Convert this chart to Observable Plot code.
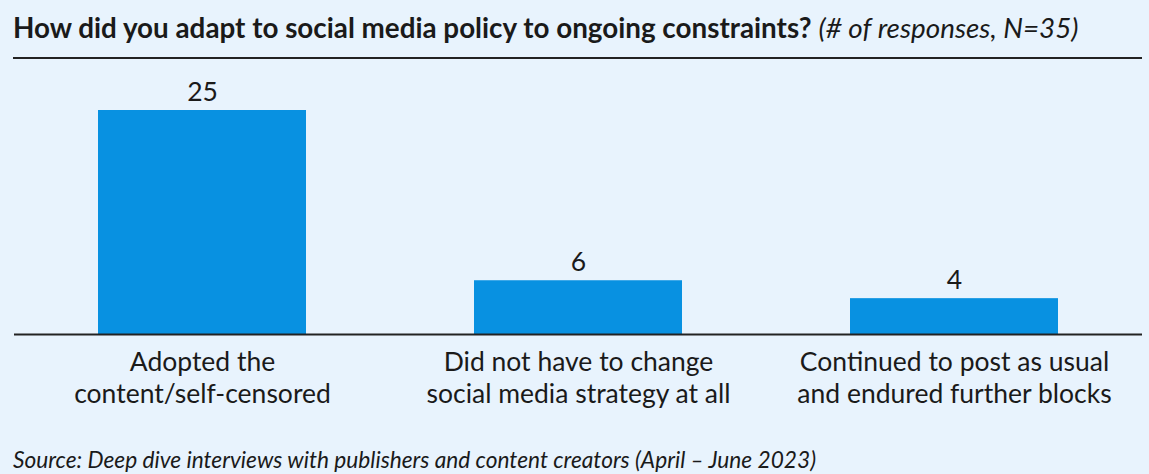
<!DOCTYPE html>
<html>
<head>
<meta charset="utf-8">
<script src="https://cdn.jsdelivr.net/npm/d3@7"></script>
<script src="https://cdn.jsdelivr.net/npm/@observablehq/plot@0.6"></script>
<style>
  html, body { margin: 0; padding: 0; background: #e8f3fd; }
  body { width: 1149px; height: 474px; overflow: hidden; font-family: Lato, "Open Sans", sans-serif; color: #1a1a1a; }
  #title { margin-left: 13px; width: 1129px; height: 59px; box-sizing: border-box; border-bottom: 2px solid #222; font-size: 27.8px; line-height: 56px; white-space: nowrap; }
  #title b { font-weight: 700; }
  #title i { font-weight: 400; }
  #chart { height: 360px; }
  #caption { margin-left: 13px; font-size: 22.7px; line-height: 27px; font-style: italic; margin-top: 27px; white-space: nowrap; }
</style>
</head>
<body>
<div id="title"><b>How did you adapt to social media policy to ongoing constraints?</b> <i>(# of responses, N=35)</i></div>
<div id="chart"></div>
<div id="caption">Source: Deep dive interviews with publishers and content creators (April – June 2023)</div>
<script>
const categories = [
  "Adopted the\ncontent/self-censored",
  "Did not have to change\nsocial media strategy at all",
  "Continued to post as usual\nand endured further blocks"
];
const responses = [25, 6, 4];

const data = categories.map((c, i) => ({category: c, value: responses[i]}));

const chart = Plot.plot({
  width: 1149,
  height: 360,
  marginLeft: 14,
  marginRight: 7,
  marginTop: 51,
  marginBottom: 85,
  style: {background: "transparent", fontFamily: "Lato, 'Open Sans', sans-serif", color: "#1a1a1a"},
  x: {domain: categories, paddingInner: 0.447, paddingOuter: 0.2235, label: null},
  y: {domain: [0, 25], axis: null},
  marks: [
    Plot.barY(data, {x: "category", y: "value", fill: "#0891e1"}),
    Plot.text(data, {x: "category", y: "value", text: d => String(d.value), dy: -10, lineAnchor: "bottom", fontSize: 26.5, fill: "#1a1a1a"}),
    Plot.ruleY([0], {stroke: "#222", strokeWidth: 2}),
    Plot.axisX({tickSize: 0, tickPadding: 13, fontSize: 26.5, lineHeight: 1.23, fill: "#1a1a1a", label: null})
  ]
});
document.getElementById("chart").appendChild(chart);
</script>
</body>
</html>
